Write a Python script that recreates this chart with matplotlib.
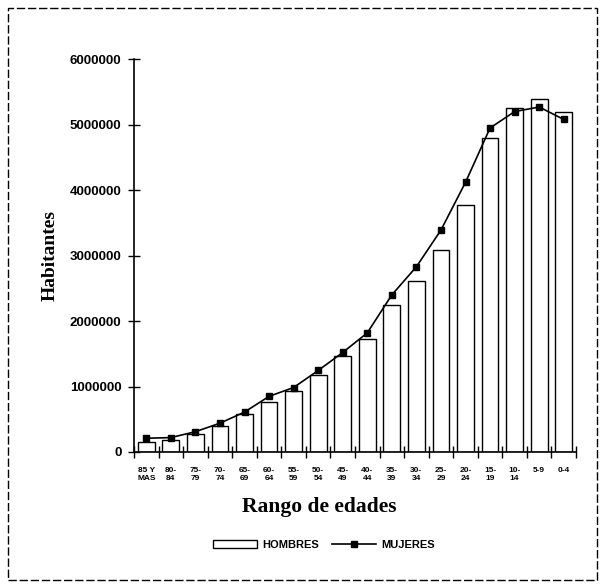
import matplotlib.pyplot as plt
from matplotlib.patches import Rectangle
import numpy as np

grupos = ["85 Y\nMAS", "80-\n84", "75-\n79", "70-\n74", "65-\n69", "60-\n64",
          "55-\n59", "50-\n54", "45-\n49", "40-\n44", "35-\n39", "30-\n34",
          "25-\n29", "20-\n24", "15-\n19", "10-\n14", "5-9", "0-4"]
hombres = [150000, 180000, 275000, 390000, 580000, 770000, 930000, 1170000,
           1460000, 1730000, 2240000, 2610000, 3080000, 3780000, 4790000,
           5260000, 5390000, 5200000]
mujeres = [210000, 220000, 310000, 440000, 610000, 850000, 985000, 1245000,
           1520000, 1820000, 2400000, 2830000, 3390000, 4120000, 4950000,
           5200000, 5270000, 5080000]
yticks = [0, 1000000, 2000000, 3000000, 4000000, 5000000, 6000000]

fig = plt.figure(figsize=(6.05, 5.88), dpi=100)
ax = fig.add_axes([0.2215, 0.2313, 0.7306, 0.668])

x = np.arange(len(grupos))
barras = ax.bar(x, hombres, width=0.68, color="white", edgecolor="black",
                linewidth=1.0, label="HOMBRES", zorder=2)
linea, = ax.plot(x, mujeres, color="black", linewidth=1.2, marker="s",
                 markersize=4.5, label="MUJERES", zorder=3)

ax.set_xlim(-0.5, len(grupos) - 0.5)
ax.set_ylim(0, 6000000)
ax.set_yticks(yticks)
ax.set_yticklabels([str(v) for v in yticks], fontfamily="Liberation Sans",
                   fontweight="bold", fontsize=9.5)
ax.set_xticks(x)
ax.set_xticklabels(grupos, fontfamily="Liberation Sans", fontweight="bold",
                   fontsize=6, linespacing=1.1)
ax.set_xticks(np.arange(-0.5, len(grupos), 1), minor=True)
ax.tick_params(axis="x", which="major", length=0, pad=11)
ax.tick_params(axis="x", which="minor", direction="inout", length=8, width=1)
ax.tick_params(axis="y", direction="inout", length=8, width=1, pad=5)

for side in ["top", "right"]:
    ax.spines[side].set_visible(False)
ax.spines["left"].set_linewidth(1.2)
ax.spines["bottom"].set_linewidth(1.2)

ax.set_ylabel("Habitantes", fontfamily="Liberation Serif", fontweight="bold",
              fontsize=14, labelpad=8)
ax.set_xlabel("Rango de edades", fontfamily="Liberation Serif", fontweight="bold",
              fontsize=15.5, labelpad=12)
ax.xaxis.set_label_coords(0.42, -0.115)

fig.legend([barras, linea], ["HOMBRES", "MUJERES"], loc="center",
           bbox_to_anchor=(0.535, 0.073), ncol=2, frameon=False,
           prop={"family": "Liberation Sans", "weight": "bold", "size": 8},
           handlelength=4, columnspacing=1.2, handletextpad=0.4)

fig.patches.append(Rectangle((8 / 605, 8 / 588), 589 / 605, 572 / 588,
                             transform=fig.transFigure, fill=False,
                             edgecolor="black", linewidth=1, linestyle=(0, (6, 2))))

plt.savefig("out.png", dpi=100)
